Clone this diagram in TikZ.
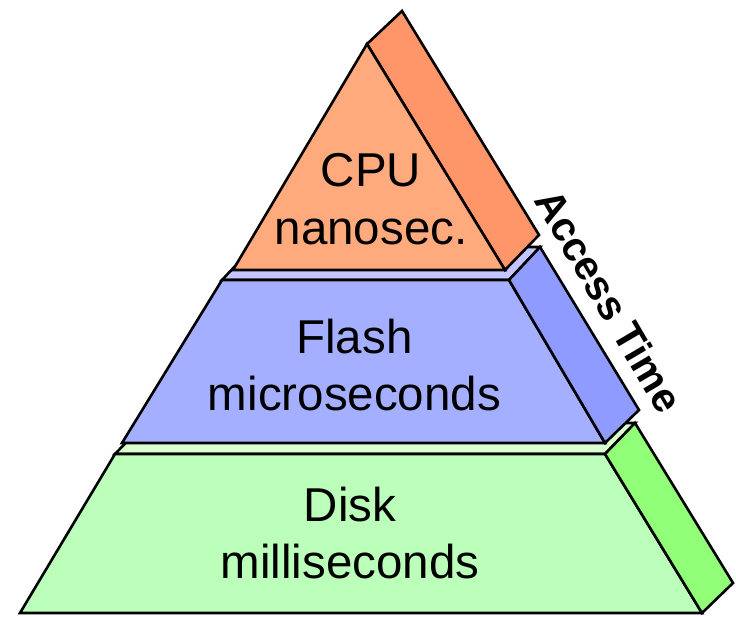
\documentclass[tikz,border=0pt]{standalone}
\usepackage{fontspec}
\setmainfont{Liberation Sans}
\usepackage{xcolor}
\definecolor{cpufront}{RGB}{255,170,125}
\definecolor{cpuside}{RGB}{255,150,105}
\definecolor{flashtop}{RGB}{197,197,255}
\definecolor{flashfront}{RGB}{165,175,255}
\definecolor{flashside}{RGB}{143,155,255}
\definecolor{disktop}{RGB}{220,255,210}
\definecolor{diskfront}{RGB}{187,255,187}
\definecolor{diskside}{RGB}{145,255,120}
\usepackage{tikz}
\tikzset{
    slab/.style={draw=black, line width=2.6pt, line join=miter},
    tierlabel/.style={font=\fontsize{47.5}{56}\selectfont, anchor=base, inner sep=0pt}
}

\begin{document}
\begin{tikzpicture}[x=1pt, y=-1pt]
        \useasboundingbox (0,0) rectangle (736,617);

        % Disk
        \draw[slab, fill=disktop] (115,454) -- (605,454) -- (635,423) -- (145,423) -- cycle;
        \draw[slab, fill=diskfront] (20,613) -- (702,613) -- (605,454) -- (115,454) -- cycle;
        \draw[slab, fill=diskside] (605,454) -- (635,423) -- (733,583) -- (702,613) -- cycle;

        % Flash
        \draw[slab, fill=flashtop] (222,280) -- (509,280) -- (540,247) -- (253,247) -- cycle;
        \draw[slab, fill=flashfront] (122,443) -- (605,443) -- (509,280) -- (222,280) -- cycle;
        \draw[slab, fill=flashside] (509,280) -- (540,247) -- (639,410) -- (605,443) -- cycle;

        % CPU
        \draw[slab, fill=cpuside] (367,44) -- (402,11) -- (539,235) -- (505,270) -- cycle;
        \draw[slab, fill=cpufront] (233,270) -- (505,270) -- (367,44) -- cycle;

        % Labels
        \node[tierlabel] (cpu) at (371,186.7) {CPU};
        \node[tierlabel] (cpuns) at (371,245) {nanosec.};
        \node[tierlabel] (flash) at (354.5,353.3) {Flash};
        \node[tierlabel] (flashus) at (354.5,410) {microseconds};
        \node[tierlabel] (disk) at (350,521.7) {Disk};
        \node[tierlabel] (diskms) at (350,578.3) {milliseconds};

        % Axis label
        \node[font=\bfseries\fontsize{41}{48}\selectfont, rotate=-59.6, inner sep=0pt] (access) at (609,300.5) {Access Time};
    \end{tikzpicture}
\end{document}
